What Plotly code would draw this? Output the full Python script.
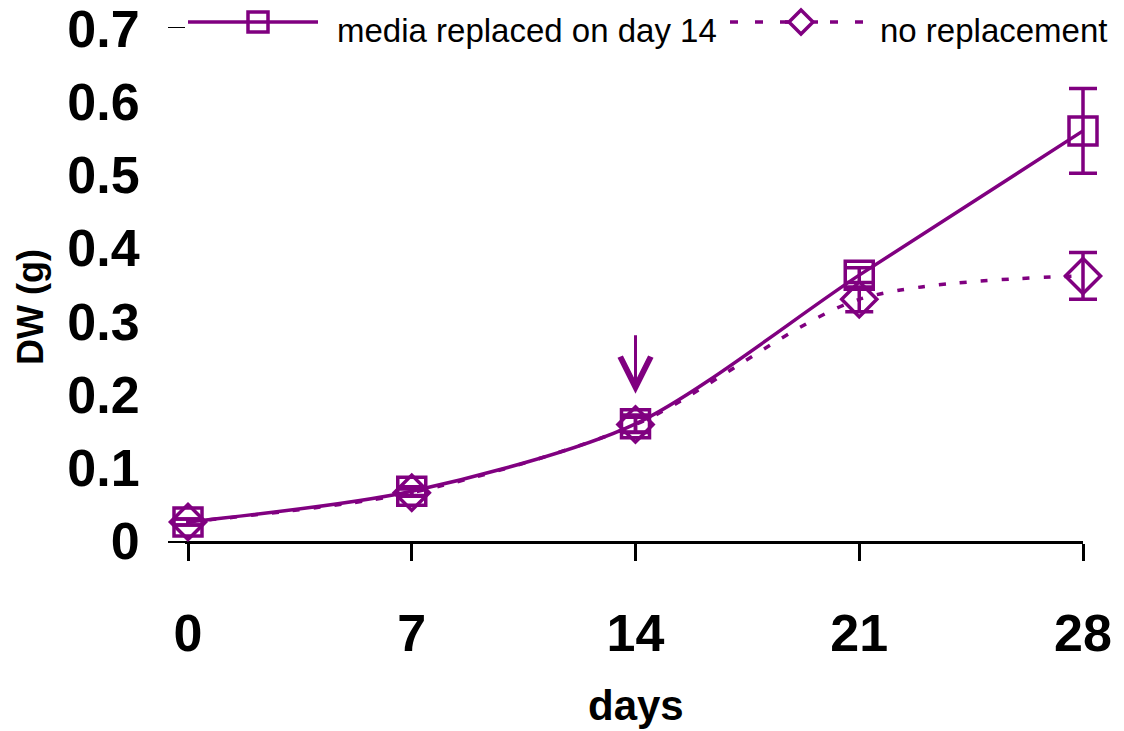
import plotly.graph_objects as go

# Dry weight over the culture period
days = [0, 7, 14, 21, 28]
dw_replaced = [0.026, 0.068, 0.160, 0.363, 0.560]
err_replaced = [0.004, 0.006, 0.012, 0.010, 0.058]
dw_no_replacement = [0.026, 0.066, 0.159, 0.330, 0.362]
err_no_replacement = [0.004, 0.005, 0.010, 0.017, 0.032]

series_names = ["media replaced on day 14", "no replacement"]
y_ticks = [0, 0.1, 0.2, 0.3, 0.4, 0.5, 0.6, 0.7]

PURPLE = "#800080"
FONT = "Liberation Sans, Arial, sans-serif"

W, H = 1124, 731
# frame of the visible axes (pixels)
AX_L, AX_R, AX_T, AX_B = 188, 1083, 28, 541
PAD = 40  # room either side so end markers/error bars are not clipped
L, R, T, B = AX_L - PAD, W - AX_R - PAD, AX_T, H - AX_B
PW = W - L - R
PH = H - T - B

X_MIN, X_MAX = 0, 28
units_per_px = (X_MAX - X_MIN) / (AX_R - AX_L)
x2_range = [X_MIN - PAD * units_per_px, X_MAX + PAD * units_per_px]


def px_x(p):
    return (p - L) / PW


def px_y(p):
    return (AX_B - p) / PH


fig = go.Figure()

# empty trace keeps the visible x/y subplot alive
fig.add_trace(go.Scatter(x=[None], y=[None], showlegend=False, hoverinfo="skip"))

fig.add_trace(go.Scatter(
    x=days, y=dw_replaced, name=series_names[0], xaxis="x2", yaxis="y",
    mode="lines+markers",
    line=dict(color=PURPLE, width=3.5, shape="spline", smoothing=0.8),
    marker=dict(symbol="square-open", size=28, color=PURPLE, line=dict(width=3.5, color=PURPLE)),
    error_y=dict(type="data", array=err_replaced, color=PURPLE, thickness=3.5, width=14),
    cliponaxis=False, showlegend=False,
))

fig.add_trace(go.Scatter(
    x=days, y=dw_no_replacement, name=series_names[1], xaxis="x2", yaxis="y",
    mode="lines+markers",
    line=dict(color=PURPLE, width=3.5, shape="spline", smoothing=0.8, dash="7px,14px"),
    marker=dict(symbol="diamond-open", size=27, color=PURPLE, line=dict(width=3.5, color=PURPLE)),
    error_y=dict(type="data", array=err_no_replacement, color=PURPLE, thickness=3.5, width=14),
    cliponaxis=False, showlegend=False,
))

shapes = []
annotations = []

# Legend drawn across the top edge
leg_y = px_y(22)
# entry 1: solid line with open square
shapes.append(dict(type="line", xref="paper", yref="paper", x0=px_x(188), x1=px_x(318),
                   y0=leg_y, y1=leg_y, line=dict(color=PURPLE, width=3.5)))
shapes.append(dict(type="rect", xref="paper", yref="paper", xsizemode="pixel", ysizemode="pixel",
                   xanchor=px_x(258), yanchor=leg_y, x0=-10, x1=10, y0=-10, y1=10,
                   line=dict(color=PURPLE, width=3.5), fillcolor="rgba(0,0,0,0)"))
annotations.append(dict(text=series_names[0], xref="paper", yref="paper", x=px_x(335), y=px_y(30),
                        xanchor="left", yanchor="middle", showarrow=False,
                        font=dict(family=FONT, size=33, color="black")))
# entry 2: dashed line with open diamond
shapes.append(dict(type="line", xref="paper", yref="paper", x0=px_x(730), x1=px_x(872),
                   y0=leg_y, y1=leg_y, line=dict(color=PURPLE, width=3.5, dash="8px,17px")))
shapes.append(dict(type="line", xref="paper", yref="paper", x0=px_x(785), x1=px_x(818),
                   y0=leg_y, y1=leg_y, line=dict(color=PURPLE, width=3.5)))
shapes.append(dict(type="path", xref="paper", yref="paper", xsizemode="pixel", ysizemode="pixel",
                   xanchor=px_x(801), yanchor=leg_y,
                   path="M -12 0 L 0 12 L 12 0 L 0 -12 Z",
                   line=dict(color=PURPLE, width=3.5), fillcolor="white"))
annotations.append(dict(text=series_names[1], xref="paper", yref="paper", x=px_x(878), y=px_y(30),
                        xanchor="left", yanchor="middle", showarrow=False,
                        font=dict(family=FONT, size=33, color="black")))

# Arrow marking the day of media replacement
annotations.append(dict(x=14, y=0.201, ax=14, ay=0.283, xref="x", yref="y", axref="x", ayref="y",
                        text="", showarrow=True, arrowhead=5, arrowsize=2.0, arrowwidth=3,
                        arrowcolor=PURPLE))

# Axis titles
annotations.append(dict(text="<b>DW (g)</b>", xref="paper", yref="paper", x=px_x(30), y=px_y(307),
                        xanchor="center", yanchor="middle", textangle=-90, showarrow=False,
                        font=dict(family=FONT, size=36, color="black")))
annotations.append(dict(text="<b>days</b>", xref="paper", yref="paper", x=px_x(636), y=px_y(705),
                        xanchor="center", yanchor="middle", showarrow=False,
                        font=dict(family=FONT, size=42, color="black")))

fig.update_layout(
    width=W, height=H,
    margin=dict(l=L, r=R, t=T, b=B, autoexpand=False),
    plot_bgcolor="white", paper_bgcolor="white",
    shapes=shapes, annotations=annotations,
    showlegend=False,
    font=dict(family=FONT, color="black"),
    xaxis=dict(
        domain=[PAD / PW, 1 - PAD / PW], anchor="y", automargin=False,
        range=[X_MIN, X_MAX], tickvals=days, ticktext=[f"<b>{d}</b>" for d in days],
        showline=True, linecolor="black", linewidth=3,
        ticks="outside", ticklen=17, tickwidth=3, tickcolor="black",
        showgrid=False, zeroline=False,
        tickfont=dict(family=FONT, size=52, color="black"),
        ticklabelstandoff=28, ticklabeloverflow="allow",
    ),
    xaxis2=dict(
        domain=[0, 1], anchor="y", range=x2_range, visible=False, automargin=False,
        showgrid=False, zeroline=False,
    ),
    yaxis=dict(
        domain=[0, 1], anchor="x", automargin=False,
        range=[0, 0.7005], tickvals=y_ticks, ticktext=[f"<b>{v:g}</b>" for v in y_ticks],
        showline=True, linecolor="black", linewidth=3,
        ticks="outside", ticklen=17, tickwidth=3, tickcolor="black",
        showgrid=False, zeroline=False,
        tickfont=dict(family=FONT, size=52, color="black"),
        ticklabelstandoff=18, ticklabeloverflow="allow",
    ),
)

fig.write_html("out.html")
